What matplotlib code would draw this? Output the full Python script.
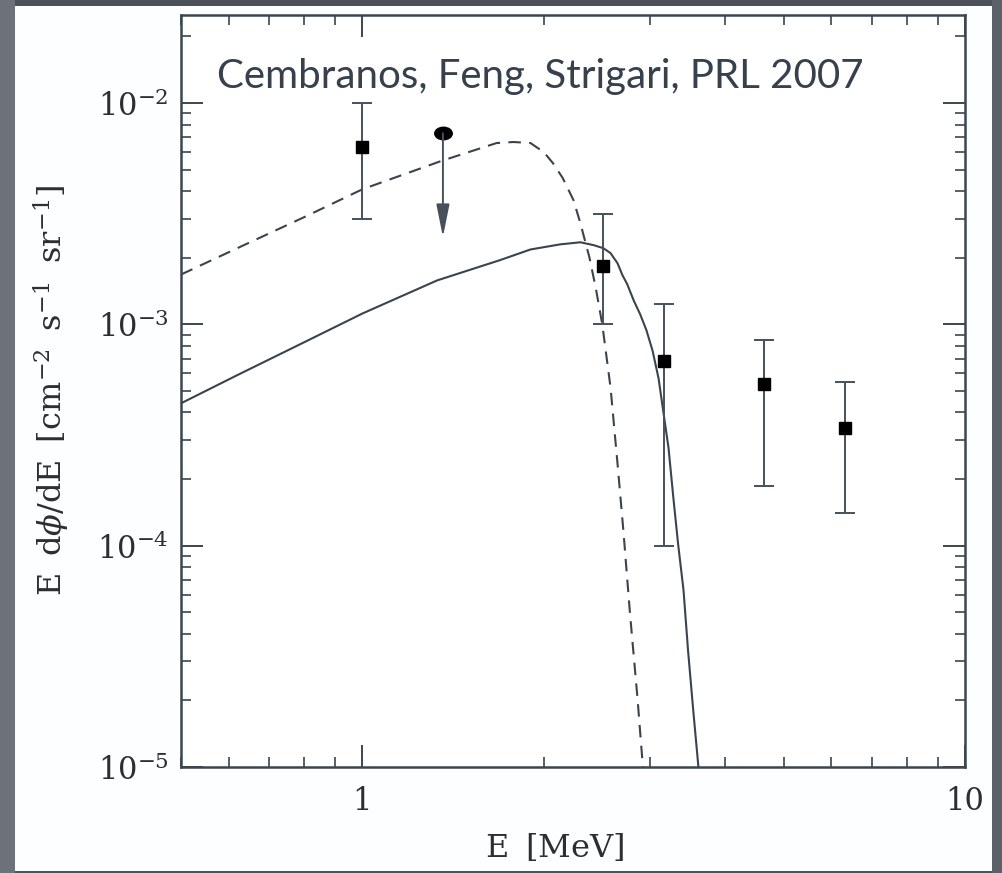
import matplotlib
matplotlib.use('Agg')
import matplotlib.pyplot as plt
from matplotlib.patches import Rectangle
from matplotlib.markers import MarkerStyle
from matplotlib.transforms import Affine2D

# energia [MeV] y flujo E dphi/dE [cm^-2 s^-1 sr^-1]
E_dash = [0.5, 0.62, 0.80, 1.0, 1.35, 1.57, 1.67, 1.78, 1.90, 2.00, 2.07,
          2.15, 2.24, 2.30, 2.38, 2.44, 2.50, 2.58, 2.65, 2.71, 2.78, 2.86,
          2.92]
F_dash = [1.68e-3, 2.21e-3, 3.05e-3, 4.08e-3, 5.47e-3, 6.25e-3, 6.6e-3,
          6.67e-3, 6.6e-3, 6.0e-3, 5.36e-3, 4.58e-3, 3.64e-3, 2.86e-3,
          2.01e-3, 1.45e-3, 1.0e-3, 5.2e-4, 2.35e-4, 1.17e-4, 4.9e-5,
          2.05e-5, 1.0e-5]

E_solid = [0.5, 0.62, 0.80, 1.0, 1.33, 1.69, 1.90, 2.13, 2.30, 2.42, 2.51,
           2.58, 2.65, 2.70, 2.75, 2.82, 2.89, 2.96, 3.03, 3.10, 3.16, 3.22,
           3.28, 3.34, 3.41, 3.47, 3.54, 3.61]
F_solid = [4.4e-4, 5.9e-4, 8.3e-4, 1.12e-3, 1.58e-3, 1.95e-3, 2.18e-3,
           2.30e-3, 2.35e-3, 2.28e-3, 2.21e-3, 2.10e-3, 1.89e-3, 1.67e-3,
           1.52e-3, 1.28e-3, 1.11e-3, 9.4e-4, 7.6e-4, 5.7e-4, 3.96e-4,
           2.77e-4, 1.65e-4, 1.02e-4, 6.3e-5, 3.35e-5, 1.79e-5, 1.0e-5]

# puntos medidos con barras de error
E_pts = [1.0, 2.51, 3.16, 4.64, 6.32]
F_pts = [6.3e-3, 1.83e-3, 6.8e-4, 5.4e-4, 3.4e-4]
F_hi = [1.0e-2, 3.15e-3, 1.24e-3, 8.5e-4, 5.5e-4]
F_lo = [3.0e-3, 1.0e-3, 1.0e-4, 1.87e-4, 1.4e-4]

# limite superior
E_lim = 1.36
F_lim = 7.3e-3
F_lim_tip = 2.48e-3

titulo = 'Cembranos, Feng, Strigari, PRL 2007'

plt.rcParams['mathtext.fontset'] = 'dejavuserif'
plt.rcParams['font.family'] = 'DejaVu Serif'

linea = '#3a444e'
eje = '#3b4650'
texto = '#2b2f33'

fig = plt.figure(figsize=(10.03, 8.73), dpi=100, facecolor='#4d5158')
# franja izquierda mas clara y panel blanco
fig.patches.append(Rectangle((0, 0), 15 / 1003, 1, transform=fig.transFigure,
                             facecolor='#6c717a', edgecolor='none', zorder=-6))
fig.patches.append(Rectangle((992 / 1003, 0), 11 / 1003, 1,
                             transform=fig.transFigure, facecolor='#5c6068',
                             edgecolor='none', zorder=-6))
fig.patches.append(Rectangle((15 / 1003, 2 / 873), 977 / 1003, 865 / 873,
                             transform=fig.transFigure, facecolor='#fdfeff',
                             edgecolor='none', zorder=-5))
ax = fig.add_axes([0.1805, 0.1214, 0.7817, 0.8614])
ax.set_facecolor('white')

ax.plot(E_dash, F_dash, color=linea, lw=1.5, dashes=(6, 4))
ax.plot(E_solid, F_solid, color=linea, lw=1.5)

yerr = [[f - lo for f, lo in zip(F_pts, F_lo)],
        [hi - f for f, hi in zip(F_pts, F_hi)]]
ax.errorbar(E_pts, F_pts, yerr=yerr, fmt='s', ms=8, color='black',
            ecolor='#46515b', elinewidth=1.4, capsize=7, capthick=1.4)

ax.annotate('', xy=(E_lim, F_lim_tip), xytext=(E_lim, F_lim),
            arrowprops=dict(arrowstyle='-|>,head_length=2.0,head_width=0.4',
                            color='#46515b', lw=1.4, shrinkA=0, shrinkB=0))
elipse = MarkerStyle('o', transform=Affine2D().scale(1.4, 1.0))
ax.plot([E_lim], [F_lim], marker=elipse, ms=9, color='black', ls='none')

ax.set_xscale('log')
ax.set_yscale('log')
ax.set_xlim(0.5, 10)
ax.set_ylim(1e-5, 2.5e-2)

ax.set_xticks([1, 10])
ax.set_xticklabels(['1', '10'])
ax.set_yticks([1e-5, 1e-4, 1e-3, 1e-2])
ax.set_yticklabels([r'$10^{-5}$', r'$10^{-4}$', r'$10^{-3}$', r'$10^{-2}$'])

ax.tick_params(which='both', direction='in', top=True, right=True,
               color=eje, labelcolor=texto, labelsize=22)
ax.tick_params(which='major', length=16, width=1.4, pad=9)
ax.tick_params(which='minor', length=7, width=1.2)
ax.tick_params(axis='x', which='major', pad=14)
for s in ax.spines.values():
    s.set_color(eje)
    s.set_linewidth(1.8)

ax.set_xlabel(r'E$\;\;$[MeV]', fontsize=23, color=texto)
ax.set_ylabel(r'E$\;\;$d$\phi$/dE$\;\;$[cm$^{-2}$$\;\;$s$^{-1}$$\;\;$sr$^{-1}$]',
              fontsize=23, color=texto)
ax.xaxis.set_label_coords(0.477, -0.087)
ax.yaxis.set_label_coords(-0.139, 0.5)

ax.text(0.046, 0.903, titulo, transform=ax.transAxes, fontsize=29,
        family='Lato', color='#36414d', va='baseline', ha='left')

fig.savefig('out.png', dpi=100, facecolor=fig.get_facecolor())
